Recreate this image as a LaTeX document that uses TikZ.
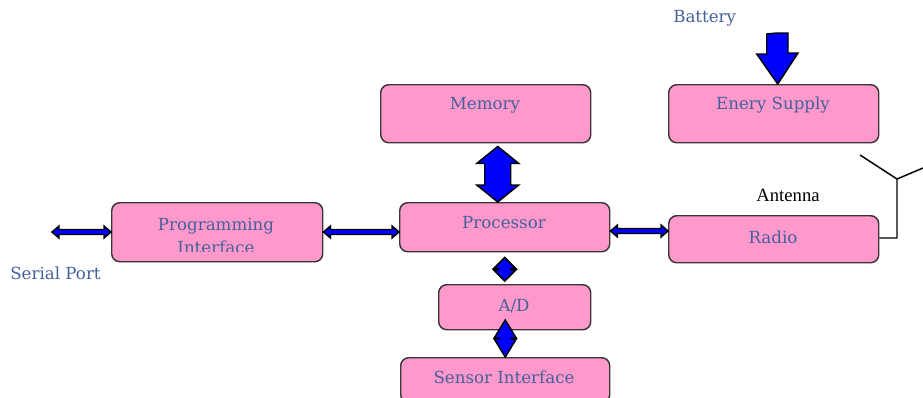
\documentclass[tikz,border=0pt]{standalone}
\usepackage{fontspec}
\setmainfont{DejaVu Serif}
\newfontfamily\timesfont{Liberation Serif}
\usetikzlibrary{calc}
\definecolor{boxpink}{RGB}{255,153,204}
\definecolor{boxtext}{RGB}{68,96,156}
\definecolor{boxline}{RGB}{55,55,55}
% double headed block arrow, horizontal: from, to, head length, head half width, shaft half width
\newcommand\hdblarrow[5]{%
  \draw[blockarrow] (#1) -- ++(#3,-#4) -- ++(0,{#4-#5}) -- ($(#2)+(-#3,-#5)$)
    -- ++(0,{#5-#4}) -- (#2) -- ++(-#3,#4) -- ++(0,{#5-#4}) -- ($(#1)+(#3,#5)$)
    -- ++(0,{#4-#5}) -- cycle;}
% same, vertical (from top to bottom)
\newcommand\vdblarrow[5]{%
  \draw[blockarrow] (#1) -- ++(-#4,#3) -- ++({#4-#5},0) -- ($(#2)+(-#5,-#3)$)
    -- ++({#5-#4},0) -- (#2) -- ++(#4,-#3) -- ++({#5-#4},0) -- ($(#1)+(#5,#3)$)
    -- ++({#4-#5},0) -- cycle;}
\begin{document}
\begin{tikzpicture}[x=0.75pt,y=-0.75pt,
    block/.style = {draw=boxline,line width=1.1pt,fill=boxpink,rounded corners=6pt,
      anchor=north west,inner sep=0pt},
    blockarrow/.style = {draw=black,line width=1.1pt,fill=blue,line join=miter},
    plainlabel/.style = {text=boxtext,font=\fontsize{12.5}{17.5}\selectfont,inner sep=0pt}]
  \useasboundingbox (0,0) rectangle (923,397);

  \node[block,minimum width=210*0.75pt,minimum height=58*0.75pt] (mem) at (380,84) {};
  \node[plainlabel] (memtxt) at (485,105) {Memory};
  \node[block,minimum width=210*0.75pt,minimum height=58*0.75pt] (es) at (668,84) {};
  \node[plainlabel] (estxt) at (773,105) {Enery Supply};
  \node[block,minimum width=211*0.75pt,minimum height=59*0.75pt] (prog) at (111,202) {};
  \begin{scope}
    \clip (111,202) rectangle (322,251.5);
    \node[plainlabel,align=center] (progtxt) at (216,236)
      {Programming\\Interface};
  \end{scope}
  \node[block,minimum width=210*0.75pt,minimum height=49*0.75pt] (proc) at (399,202) {};
  \node[plainlabel] (proctxt) at (504,223) {Processor};
  \node[block,minimum width=210*0.75pt,minimum height=47*0.75pt] (radio) at (668,215) {};
  \node[plainlabel] (radiotxt) at (773,237) {Radio};
  \node[block,minimum width=152*0.75pt,minimum height=45*0.75pt] (ad) at (438,284) {};
  \node[plainlabel] (adtxt) at (514,306) {A/D};
  \node[block,minimum width=209*0.75pt,minimum height=45*0.75pt] (sens) at (400,357) {};
  \node[plainlabel] (senstxt) at (504,377) {Sensor Interface};

  \node[plainlabel,anchor=west] (serial) at (10,273) {Serial Port};
  \node[plainlabel,anchor=west] (battery) at (673,18) {Battery};
  \node[font=\timesfont\fontsize{14}{16}\selectfont,inner sep=0pt] (ant) at (788,195) {Antenna};

  \coordinate (serialend) at (52,232);
  \coordinate (radiolevel) at (640,231);
  \coordinate (battop) at (777,33);
  \coordinate (antfoot) at (897,238);

  % thin arrows
  \hdblarrow{serialend}{prog.west |- serialend}{7}{6}{2.5}
  \hdblarrow{prog.east |- serialend}{proc.west |- serialend}{7}{6}{2.5}
  \hdblarrow{proc.east |- radiolevel}{radio.west |- radiolevel}{7}{6}{2.5}

  % block arrows
  \vdblarrow{$(mem.south)+(12,3)$}{$(proc.north)+(-7,0)$}{17}{21}{13}
  \vdblarrow{$(proc.south)+(0,5)$}{$(ad.north)+(-10,-3)$}{11}{11}{6}
  \vdblarrow{$(sens.north)+(0,-37)$}{sens.north}{18}{11}{6}
  \draw[blockarrow] (battop) -- ++(11,0) -- ++(0,20) -- ++(10,0)
    -- ($(es.north)+(4,0)$) -- ++(-21,-30) -- ++(10,0) -- ++(0,-20) -- cycle;

  % antenna
  \draw[line width=1.1pt] (radio.east |- antfoot) -- (antfoot) -- ++(0,-59) coordinate (antfork)
    -- (860,155);
  \draw[line width=1.1pt] (antfork) -- (923,168);
\end{tikzpicture}
\end{document}
